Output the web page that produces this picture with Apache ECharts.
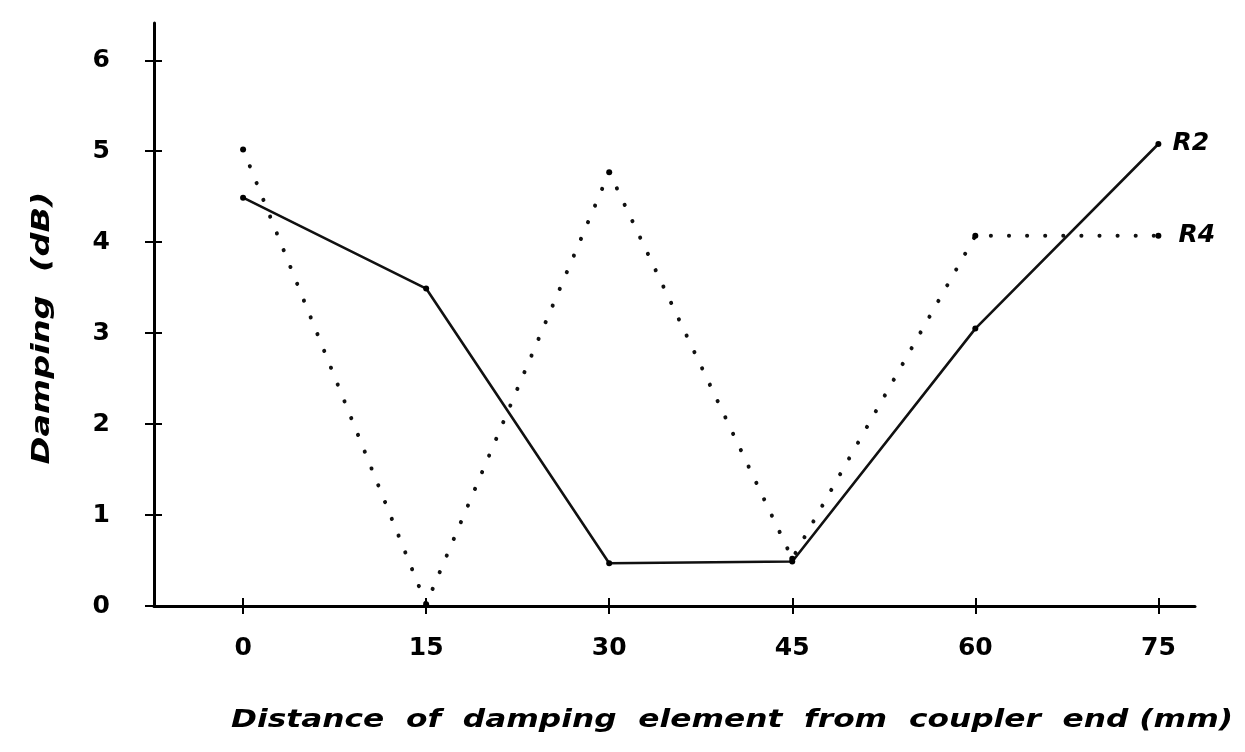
<!DOCTYPE html>
<html>
<head>
<meta charset="utf-8">
<script src="https://cdn.jsdelivr.net/npm/echarts@6/dist/echarts.min.js"></script>
<style>
  html, body { margin: 0; padding: 0; background: #fff; }
  #chart { width: 1245px; height: 752px; }
</style>
</head>
<body>
<div id="chart"></div>
<script>
// Data
const xTicks = [0, 15, 30, 45, 60, 75];
const yTicks = [0, 1, 2, 3, 4, 5, 6];
const distances = [0, 15, 30, 45, 60, 75];
const r2Values = [4.49, 3.49, 0.47, 0.49, 3.05, 5.08];
const r4Values = [5.02, 0.02, 4.77, 0.52, 4.07, 4.07];
const seriesNames = ['R2', 'R4'];
const xTitle = 'Distance  of  damping  element  from  coupler  end (mm)';
const yTitle = 'Damping  (dB)';

const FONT = 'DejaVu Sans';
const chart = echarts.init(document.getElementById('chart'), null, { renderer: 'canvas' });

const pairs = vals => distances.map((d, i) => [d, vals[i]]);

const baseX = {
  type: 'value', min: -7.3, max: 78, gridIndex: 0,
  splitLine: { show: false }
};
const baseY = {
  type: 'value', min: 0, max: 6.41, gridIndex: 0,
  splitLine: { show: false }
};

const option = {
  backgroundColor: '#ffffff',
  animation: false,
  grid: { left: 154, right: 50, top: 23, bottom: 146, containLabel: false },
  xAxis: [
    Object.assign({}, baseX, {
      position: 'bottom',
      axisLine: { show: true, onZero: false, lineStyle: { color: '#000', width: 3 } },
      axisTick: { show: true, inside: false, length: 8, customValues: xTicks, lineStyle: { color: '#000', width: 2 } },
      axisLabel: { show: true, customValues: xTicks, margin: 30, color: '#000',
        fontFamily: FONT, fontWeight: 'bold', fontSize: 25 }
    }),
    Object.assign({}, baseX, {
      position: 'bottom',
      axisLine: { show: false, onZero: false },
      axisTick: { show: true, inside: true, length: 8, customValues: xTicks, lineStyle: { color: '#000', width: 2 } },
      axisLabel: { show: false }
    })
  ],
  yAxis: [
    Object.assign({}, baseY, {
      position: 'left',
      axisLine: { show: true, onZero: false, lineStyle: { color: '#000', width: 3 } },
      axisTick: { show: true, inside: false, length: 9, customValues: yTicks, lineStyle: { color: '#000', width: 2 } },
      axisLabel: { show: true, customValues: yTicks, margin: 44, color: '#000',
        fontFamily: FONT, fontWeight: 'bold', fontSize: 25 }
    }),
    Object.assign({}, baseY, {
      position: 'left',
      axisLine: { show: false, onZero: false },
      axisTick: { show: true, inside: true, length: 8, customValues: yTicks, lineStyle: { color: '#000', width: 2 } },
      axisLabel: { show: false }
    })
  ],
  series: [
    {
      name: seriesNames[0], type: 'line', xAxisIndex: 0, yAxisIndex: 0,
      data: pairs(r2Values),
      symbol: 'circle', symbolSize: 6,
      itemStyle: { color: '#000' },
      lineStyle: { color: '#111', width: 2.6 },
      endLabel: { show: true, formatter: '{a}', distance: 14, color: '#000',
        fontFamily: FONT, fontWeight: 'bold', fontStyle: 'italic', fontSize: 25 }
    },
    {
      name: seriesNames[1], type: 'line', xAxisIndex: 0, yAxisIndex: 0,
      data: pairs(r4Values),
      symbol: 'circle', symbolSize: 6,
      itemStyle: { color: '#000' },
      lineStyle: { color: '#111', width: 4, type: [0.1, 18], cap: 'round' },
      endLabel: { show: true, formatter: '{a}', distance: 20, color: '#000',
        fontFamily: FONT, fontWeight: 'bold', fontStyle: 'italic', fontSize: 25 }
    }
  ],
  graphic: [
    {
      type: 'text', x: 732, y: 720, scaleX: 1.25,
      style: { text: xTitle, align: 'center', verticalAlign: 'middle', fill: '#000',
        font: 'italic bold 25px "DejaVu Sans"' }
    },
    {
      type: 'text', x: 43, y: 328, rotation: Math.PI / 2, scaleX: 1.4,
      style: { text: yTitle, align: 'center', verticalAlign: 'middle', fill: '#000',
        font: 'italic bold 24px "DejaVu Sans"' }
    }
  ]
};

chart.setOption(option);
</script>
</body>
</html>
